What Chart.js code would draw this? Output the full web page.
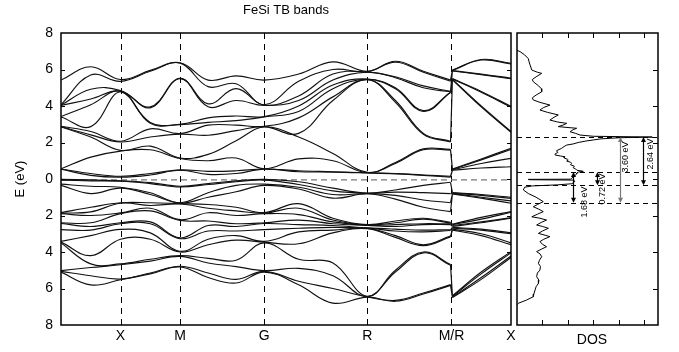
<!DOCTYPE html>
<html>
<head>
<meta charset="utf-8">
<title>FeSi TB bands</title>
<script src="https://cdn.jsdelivr.net/npm/chart.js@4/dist/chart.umd.min.js"></script>
<style>
  body { margin: 0; background: #fff; }
  #wrap { position: relative; width: 679px; height: 352px; }
  #wrap canvas { position: absolute; left: 0; top: 0; }
</style>
</head>
<body>
<div id="wrap">
  <canvas id="bandsChart" width="679" height="352"></canvas>
  <canvas id="dosChart" width="679" height="352"></canvas>
</div>
<script>
// k path: sample positions along G-X-M-G-R-M/R-X (index 13/14 = both sides of the M/R break)
const kPath = [0, 0.25, 0.5, 0.75, 1.0, 1.236, 1.471, 1.707, 1.996, 2.284, 2.573, 2.809, 3.044, 3.272, 3.288, 3.53, 3.78];
const symPos = [0, 0.5, 1.0, 1.707, 2.573, 3.28, 3.78];
const symLabels = ["", "X", "M", "G", "R", "M/R", "X"];
const fermiLevel = -0.05;

// conduction bands, one row per k sample (eV, high to low)
const condByK = [
  [5.42, 4.07, 4.05, 4.03, 3.42, 3.40, 2.89, 2.87, 2.85, 0.56, 0.55, 0.54],
  [6.15, 5.70, 4.92, 4.38, 4.07, 2.87, 2.60, 2.42, 2.30, 1.20, 0.30, 0.20],
  [5.45, 5.35, 4.85, 4.82, 4.80, 4.78, 2.07, 2.03, 1.57, 1.53, 0.15, 0.10],
  [5.95, 5.90, 3.95, 3.90, 3.10, 3.05, 2.75, 2.30, 1.80, 1.60, 0.30, 0.22],
  [6.37, 6.35, 5.52, 5.50, 3.00, 2.98, 2.49, 2.46, 1.15, 1.12, 0.50, 0.48],
  [5.42, 5.06, 4.12, 3.96, 3.35, 3.10, 2.95, 2.40, 1.35, 1.00, 0.42, 0.25],
  [5.65, 5.22, 4.95, 4.30, 3.45, 3.20, 2.95, 2.65, 2.10, 1.15, 0.45, 0.30],
  [5.42, 4.07, 4.05, 4.03, 3.42, 3.40, 2.89, 2.87, 2.85, 0.56, 0.55, 0.54],
  [5.75, 5.35, 4.55, 4.30, 4.00, 3.70, 3.35, 2.50, 2.30, 1.10, 0.45, 0.40],
  [6.42, 6.00, 5.75, 5.42, 5.15, 4.95, 4.50, 4.30, 1.40, 1.00, 0.40, 0.38],
  [5.90, 5.88, 5.86, 5.85, 5.48, 5.46, 5.45, 5.44, 0.36, 0.35, 0.34, 0.33],
  [6.45, 6.40, 5.60, 5.55, 5.00, 4.95, 4.30, 4.20, 0.90, 0.85, 0.30, 0.28],
  [5.90, 5.85, 5.10, 5.00, 3.75, 3.70, 2.50, 2.45, 1.65, 1.60, 0.22, 0.20],
  [5.42, 5.36, 4.80, 4.78, 4.76, 4.74, 2.07, 2.03, 1.62, 1.58, 0.15, 0.10],
  [5.97, 5.95, 5.94, 5.92, 5.50, 5.48, 5.46, 5.44, 0.55, 0.52, 0.50, 0.48],
  [6.55, 6.52, 5.75, 5.72, 4.80, 4.75, 4.00, 3.95, 1.10, 1.05, 0.85, 0.60],
  [6.34, 6.30, 5.52, 5.50, 3.98, 3.94, 2.60, 2.56, 1.68, 1.62, 1.13, 0.67]
];

// valence bands, one row per k sample
const valByK = [
  [-0.02, -0.06, -0.28, -0.35, -1.84, -1.87, -1.90, -2.40, -2.44, -2.77, -3.42, -3.46, -3.50, -5.02, -5.06, -5.10],
  [-0.05, -0.10, -0.40, -0.80, -1.55, -1.80, -2.00, -2.40, -2.60, -2.80, -3.10, -4.20, -4.65, -4.85, -5.30, -5.80],
  [-0.10, -0.12, -0.45, -0.50, -1.30, -1.33, -1.86, -1.90, -2.40, -2.45, -2.76, -3.30, -4.65, -4.70, -5.48, -5.52],
  [-0.20, -0.25, -0.75, -0.85, -1.30, -1.45, -1.60, -1.75, -2.35, -2.45, -2.95, -3.30, -4.40, -4.50, -5.15, -5.20],
  [-0.40, -0.44, -1.30, -1.32, -1.35, -1.37, -2.23, -2.27, -3.23, -3.27, -3.96, -4.00, -4.20, -4.24, -4.78, -4.82],
  [-0.25, -0.30, -0.75, -1.00, -1.40, -1.60, -1.85, -2.30, -2.55, -2.85, -3.30, -3.60, -4.35, -4.60, -5.15, -5.40],
  [-0.10, -0.15, -0.35, -0.70, -1.55, -1.75, -2.00, -2.45, -2.60, -2.85, -3.10, -3.35, -4.45, -4.80, -5.50, -5.70],
  [-0.02, -0.06, -0.28, -0.35, -1.84, -1.87, -1.90, -2.40, -2.44, -2.77, -3.42, -3.46, -3.50, -5.02, -5.06, -5.10],
  [-0.15, -0.30, -0.45, -0.55, -1.35, -1.60, -1.95, -2.25, -2.50, -2.70, -2.90, -3.55, -4.40, -4.90, -5.60, -5.80],
  [-0.50, -0.65, -0.85, -1.05, -2.15, -2.25, -2.35, -2.45, -2.55, -2.65, -2.80, -2.95, -4.60, -5.30, -6.00, -6.80],
  [-0.77, -0.78, -0.80, -0.81, -2.50, -2.51, -2.53, -2.54, -2.68, -2.69, -2.71, -2.72, -6.43, -6.44, -6.46, -6.47],
  [-0.60, -0.72, -0.90, -1.10, -2.30, -2.40, -2.50, -2.60, -2.75, -2.85, -3.10, -3.20, -5.00, -5.10, -6.65, -6.70],
  [-0.35, -0.75, -1.15, -1.55, -2.15, -2.20, -2.45, -2.50, -2.80, -2.90, -3.60, -3.65, -4.00, -4.05, -6.25, -6.30],
  [-0.18, -0.80, -1.30, -1.79, -2.38, -2.42, -2.46, -2.50, -2.78, -2.82, -3.13, -3.17, -4.69, -4.73, -5.79, -5.83],
  [-0.75, -0.77, -0.80, -0.82, -2.48, -2.50, -2.55, -2.60, -2.65, -2.70, -2.75, -2.80, -6.40, -6.43, -6.47, -6.50],
  [-0.85, -0.90, -1.00, -1.05, -2.10, -2.20, -2.35, -2.40, -2.75, -2.80, -3.00, -3.10, -5.10, -5.20, -5.40, -5.50],
  [-1.00, -1.06, -1.20, -1.33, -1.79, -1.82, -2.12, -2.15, -2.95, -3.00, -3.50, -3.60, -3.98, -4.05, -4.22, -4.30]
];

// density of states, read top to bottom
const dosEnergy = [7.05, 6.98, 6.8, 6.6, 6.3, 5.97, 5.85, 5.79, 5.6, 5.45, 5.33, 5.1, 4.95, 4.78, 4.6, 4.45, 4.33, 4.2, 4.05, 3.92,
  3.78, 3.65, 3.51, 3.38, 3.23, 3.12, 3.05, 2.95, 2.87, 2.82, 2.78, 2.7, 2.59, 2.5, 2.41, 2.34, 2.30, 2.26, 2.20, 2.14,
  2.08, 2.0, 1.92, 1.86, 1.78, 1.68, 1.55, 1.45, 1.38, 1.32, 1.26, 1.22, 1.15, 1.08, 1.04, 0.98, 0.92, 0.86, 0.78, 0.70,
  0.62, 0.55, 0.48, 0.42, 0.38, 0.33, 0.27, 0.20, 0.13, 0.05, -0.01, -0.02, -0.04, -0.06, -0.12, -0.20, -0.26, -0.32, -0.38, -0.45,
  -0.6, -0.8, -1.0, -1.24, -1.4, -1.52, -1.65, -1.79, -1.93, -2.07, -2.15, -2.25, -2.38, -2.52, -2.6, -2.70, -2.85, -2.98, -3.08, -3.16,
  -3.3, -3.43, -3.58, -3.71, -3.85, -3.98, -4.1, -4.26, -4.45, -4.62, -4.8, -4.99, -5.15, -5.35, -5.55, -5.72, -5.9, -6.08, -6.3, -6.45,
  -6.63, -6.81, -6.9];
const dosValue = [0.0, 0.12, 0.3, 0.44, 0.5, 0.58, 0.8, 0.97, 0.75, 0.6, 0.64, 0.85, 0.95, 0.97, 0.75, 0.6, 0.64, 0.9, 1.29, 1.05,
  0.9, 1.2, 1.62, 1.45, 1.29, 1.6, 1.95, 1.8, 1.62, 2.0, 2.34, 2.2, 2.08, 2.3, 2.47, 3.0, 5.3, 4.0, 3.3, 3.0,
  2.7, 2.4, 2.2, 1.95, 1.85, 1.75, 1.55, 1.6, 1.5, 1.49, 1.7, 1.88, 1.85, 1.98, 2.01, 1.95, 2.1, 2.14, 2.1, 2.25,
  2.2, 2.3, 2.35, 2.6, 2.4, 2.35, 2.34, 2.28, 2.21, 2.15, 2.1, 0.44, 0.5, 2.2, 2.27, 2.22, 2.15, 1.6, 0.6, 0.3,
  0.25, 0.45, 0.75, 1.03, 0.8, 0.64, 0.85, 1.03, 0.8, 0.58, 0.9, 1.16, 0.95, 0.77, 1.0, 1.23, 1.0, 0.84, 1.1, 1.29,
  1.05, 0.9, 1.0, 1.16, 0.95, 0.77, 0.9, 0.97, 0.88, 0.84, 0.92, 0.9, 0.8, 0.77, 0.86, 0.84, 0.75, 0.71, 0.66, 0.64,
  0.38, 0.05, 0.0];

// gap levels and the arrows between them
const gapLevels = [2.30, 0.38, -0.34, -1.30];
const gapArrows = [
  { label: "1.68 eV", top: 0.38, bottom: -1.30, x: 2.2, textX: 2.63, textE: -1.26, color: "#000" },
  { label: "0.72 eV", top: 0.38, bottom: -0.34, x: 3.14, textX: 3.37, textE: -0.55, color: "#000" },
  { label: "3.60 eV", top: 2.30, bottom: -1.30, x: 4.04, textX: 4.27, textE: 1.2, color: "#777" },
  { label: "2.64 eV", top: 2.30, bottom: -0.34, x: 4.94, textX: 5.22, textE: 1.37, color: "#000" }
];

const FONT = "'Liberation Sans', Arial, Helvetica, sans-serif";
const jumpIndex = 14;

function bandSets(cols) {
  const sets = [];
  for (let b = 0; b < cols[0].length; b++) {
    const pts = [];
    kPath.forEach((k, i) => {
      if (i === jumpIndex) pts.push({ x: (kPath[i - 1] + k) / 2, y: null });
      pts.push({ x: k, y: cols[i][b] });
    });
    sets.push({ data: pts, borderColor: "#111", borderWidth: 1.15, pointRadius: 0, tension: 0.4, fill: false });
  }
  return sets;
}

// near-vertical connections at the M/R break
const jumpPts = [];
[condByK, valByK].forEach(cols => {
  cols[jumpIndex - 1].forEach((e, b) => {
    jumpPts.push({ x: kPath[jumpIndex - 1], y: e }, { x: kPath[jumpIndex], y: cols[jumpIndex][b] }, { x: 3.28, y: null });
  });
});

function drawFrame(ctx, a) {
  ctx.save();
  ctx.setLineDash([]);
  ctx.strokeStyle = "#000";
  ctx.lineWidth = 1.5;
  ctx.strokeRect(a.left, a.top, a.right - a.left, a.bottom - a.top);
  ctx.restore();
}

const bandDecor = {
  id: "bandDecor",
  beforeDatasetsDraw(chart) {
    const { ctx, chartArea: a, scales: { x, y } } = chart;
    ctx.save();
    ctx.lineWidth = 1;
    ctx.strokeStyle = "#000";
    ctx.setLineDash([6, 5]);
    symPos.slice(1, -1).forEach(k => {
      const px = Math.round(x.getPixelForValue(k)) + 0.5;
      ctx.beginPath(); ctx.moveTo(px, a.top); ctx.lineTo(px, a.bottom); ctx.stroke();
    });
    ctx.strokeStyle = "#777";
    ctx.lineWidth = 1.3;
    ctx.setLineDash([6, 4]);
    const py = y.getPixelForValue(fermiLevel);
    ctx.beginPath(); ctx.moveTo(a.left, py); ctx.lineTo(a.right, py); ctx.stroke();
    ctx.restore();
  },
  afterDraw(chart) {
    const { ctx, chartArea: a, scales: { y } } = chart;
    drawFrame(ctx, a);
    ctx.save();
    ctx.strokeStyle = "#000";
    ctx.lineWidth = 1;
    for (let e = -6; e <= 6; e += 2) {
      const py = Math.round(y.getPixelForValue(e)) + 0.5;
      ctx.beginPath();
      ctx.moveTo(a.left, py); ctx.lineTo(a.left + 4, py);
      ctx.moveTo(a.right, py); ctx.lineTo(a.right - 4, py);
      ctx.stroke();
    }
    ctx.restore();
  }
};

function arrowHead(ctx, px, py, dir) {
  ctx.beginPath();
  ctx.moveTo(px, py);
  ctx.lineTo(px - 2.5, py + dir * 5);
  ctx.lineTo(px + 2.5, py + dir * 5);
  ctx.closePath();
  ctx.fill();
}

const dosDecor = {
  id: "dosDecor",
  beforeDatasetsDraw(chart) {
    const { ctx, chartArea: a, scales: { y } } = chart;
    ctx.save();
    ctx.strokeStyle = "#000";
    ctx.lineWidth = 1;
    ctx.setLineDash([5, 4]);
    gapLevels.forEach(e => {
      const py = Math.round(y.getPixelForValue(e)) + 0.5;
      ctx.beginPath(); ctx.moveTo(a.left, py); ctx.lineTo(a.right, py); ctx.stroke();
    });
    ctx.restore();
  },
  afterDraw(chart) {
    const { ctx, chartArea: a, scales: { x, y } } = chart;
    ctx.save();
    gapArrows.forEach(g => {
      const px = Math.round(x.getPixelForValue(g.x)) + 0.5;
      const y1 = y.getPixelForValue(g.top);
      const y2 = y.getPixelForValue(g.bottom);
      ctx.strokeStyle = g.color;
      ctx.fillStyle = g.color;
      ctx.lineWidth = 1.2;
      ctx.beginPath(); ctx.moveTo(px, y1 + 3); ctx.lineTo(px, y2 - 3); ctx.stroke();
      arrowHead(ctx, px, y1, 1);
      arrowHead(ctx, px, y2, -1);
      ctx.save();
      ctx.translate(x.getPixelForValue(g.textX), y.getPixelForValue(g.textE));
      ctx.rotate(-Math.PI / 2);
      ctx.fillStyle = "#000";
      ctx.font = "9px " + FONT;
      ctx.textAlign = "center";
      ctx.textBaseline = "middle";
      ctx.fillText(g.label, 0, 0);
      ctx.restore();
    });
    ctx.restore();

    drawFrame(ctx, a);
    ctx.save();
    ctx.strokeStyle = "#000";
    ctx.lineWidth = 1;
    for (let d = 1; d <= 5; d++) {
      const px = Math.round(x.getPixelForValue(d)) + 0.5;
      ctx.beginPath();
      ctx.moveTo(px, a.top); ctx.lineTo(px, a.top + 5);
      ctx.moveTo(px, a.bottom); ctx.lineTo(px, a.bottom - 5);
      ctx.stroke();
    }
    for (let e = -6; e <= 6; e += 2) {
      const py = Math.round(y.getPixelForValue(e)) + 0.5;
      ctx.beginPath(); ctx.moveTo(a.right, py); ctx.lineTo(a.right - 5, py); ctx.stroke();
    }
    ctx.fillStyle = "#000";
    ctx.font = "14px " + FONT;
    ctx.textAlign = "center";
    ctx.textBaseline = "middle";
    ctx.fillText("DOS", 592, 340);
    ctx.restore();
  }
};

new Chart(document.getElementById("bandsChart"), {
  type: "line",
  data: {
    datasets: bandSets(condByK).concat(bandSets(valByK)).concat([{
      data: jumpPts, borderColor: "#111", borderWidth: 1.15, pointRadius: 0, tension: 0, fill: false
    }])
  },
  options: {
    responsive: false,
    animation: false,
    events: [],
    layout: { padding: { left: 0, right: 168, top: 0, bottom: 0 } },
    plugins: {
      legend: { display: false },
      tooltip: { enabled: false },
      title: {
        display: true,
        fullSize: false,
        text: "FeSi TB bands",
        color: "#000",
        font: { family: FONT, size: 13, weight: "normal" },
        padding: { top: 3, bottom: 14.4 }
      }
    },
    scales: {
      x: {
        type: "linear",
        min: 0,
        max: 3.78,
        afterBuildTicks: s => { s.ticks = symPos.map(v => ({ value: v })); },
        afterFit: s => { s.height = 27; },
        ticks: {
          autoSkip: false,
          maxRotation: 0,
          padding: 3,
          color: "#000",
          font: { family: FONT, size: 14 },
          callback: (v, i) => symLabels[i]
        },
        grid: { display: false, drawTicks: false },
        border: { display: false }
      },
      y: {
        type: "linear",
        min: -8,
        max: 8,
        afterFit: s => { s.width = 61; },
        ticks: {
          stepSize: 2,
          padding: 8,
          color: "#000",
          font: { family: FONT, size: 14 },
          callback: v => Math.abs(v)
        },
        grid: { display: false, drawTicks: false },
        border: { display: false },
        title: {
          display: true,
          text: "E (eV)",
          color: "#000",
          font: { family: FONT, size: 13 },
          padding: { top: 13, bottom: 0 }
        }
      }
    }
  },
  plugins: [bandDecor]
});

new Chart(document.getElementById("dosChart"), {
  type: "line",
  data: {
    datasets: [{
      data: dosEnergy.map((e, i) => ({ x: dosValue[i], y: e })),
      borderColor: "#000",
      borderWidth: 1,
      pointRadius: 0,
      tension: 0,
      fill: false
    }]
  },
  options: {
    responsive: false,
    animation: false,
    events: [],
    layout: { padding: { left: 517, right: 21, top: 33, bottom: 27 } },
    plugins: { legend: { display: false }, tooltip: { enabled: false } },
    scales: {
      x: { type: "linear", min: 0, max: 5.53, display: false },
      y: { type: "linear", min: -8, max: 8, display: false }
    }
  },
  plugins: [dosDecor]
});
</script>
</body>
</html>
